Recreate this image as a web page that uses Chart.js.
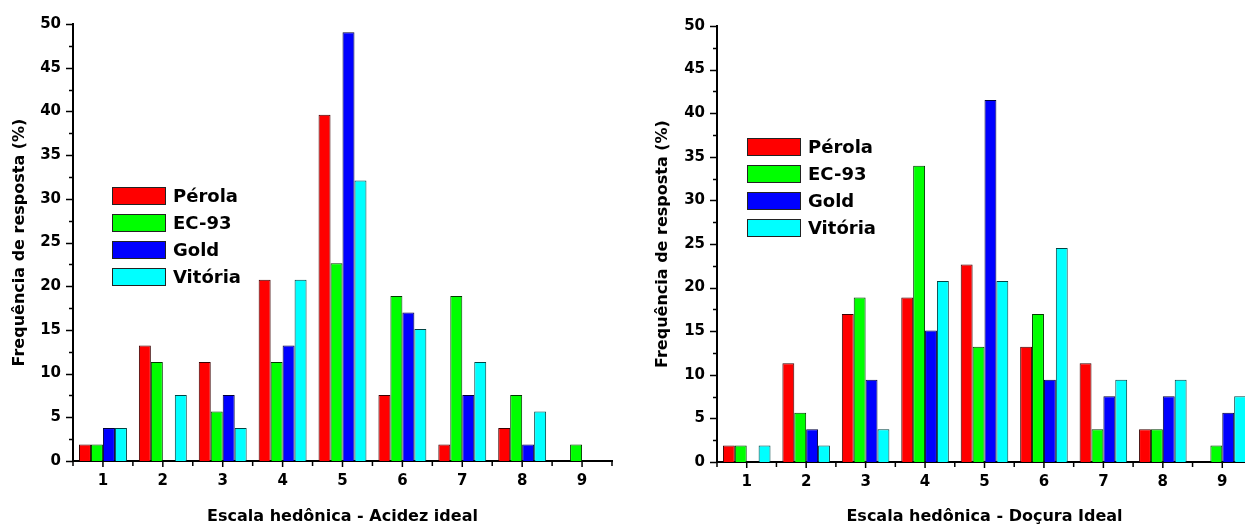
<!DOCTYPE html>
<html>
<head>
<meta charset="utf-8">
<script src="https://cdn.jsdelivr.net/npm/chart.js@4.4.0/dist/chart.umd.min.js"></script>
<style>
    body { margin: 0; width: 1245px; height: 526px; overflow: hidden; background: #fff; position: relative; font-family: "DejaVu Sans", sans-serif; }
    .painel { position: absolute; top: 0; width: 640px; height: 526px; }
    .legenda { position: absolute; font-weight: bold; font-size: 18px; color: #000; }
    .legenda div { display: flex; align-items: center; height: 27px; }
    .legenda span { display: inline-block; width: 52px; height: 16px; border: 1px solid #222; margin-right: 7px; }
</style>
</head>
<body>
<div class="painel" style="left:0"><canvas id="acidez"></canvas></div>
<div class="painel" style="left:640px"><canvas id="docura"></canvas></div>
<div class="legenda" id="leg-acidez" style="left:112px; top:182px"></div>
<div class="legenda" id="leg-docura" style="left:747px; top:133px"></div>
<script>
// escala hedônica (1 a 9) e cultivares
const escala = ['1', '2', '3', '4', '5', '6', '7', '8', '9'];
const cultivares = ['Pérola', 'EC-93', 'Gold', 'Vitória'];
const cores = ['#ff0000', '#00ff00', '#0000ff', '#00ffff'];
const bordas = ['#3a0000', '#003a00', '#00003a', '#004444'];

// Acidez ideal - frequência de resposta (%)
const acidezPerola  = [1.89, 13.21, 11.32, 20.75, 39.62, 7.55, 1.89, 3.77, 0];
const acidezEC93    = [1.89, 11.32, 5.66, 11.32, 22.64, 18.87, 18.87, 7.55, 1.89];
const acidezGold    = [3.77, 0, 7.55, 13.21, 49.06, 16.98, 7.55, 1.89, 0];
const acidezVitoria = [3.77, 7.55, 3.77, 20.75, 32.08, 15.09, 11.32, 5.66, 0];

// Doçura ideal - frequência de resposta (%)
const docuraPerola  = [1.89, 11.32, 16.98, 18.87, 22.64, 13.21, 11.32, 3.77, 0];
const docuraEC93    = [1.89, 5.66, 18.87, 33.96, 13.21, 16.98, 3.77, 3.77, 1.89];
const docuraGold    = [0, 3.77, 9.43, 15.09, 41.51, 9.43, 7.55, 7.55, 5.66];
const docuraVitoria = [1.89, 1.89, 3.77, 20.75, 20.75, 24.53, 9.43, 9.43, 7.55];

// tracinhos no estilo Origin (maiores e menores), fora da área do gráfico
const tracosEixos = {
    id: 'tracosEixos',
    afterDraw(chart) {
        const { ctx, chartArea: a, scales: { x, y } } = chart;
        ctx.save();
        ctx.strokeStyle = '#000';
        ctx.lineWidth = 1.5;
        ctx.beginPath();
        for (let v = 0; v <= 50; v += 2.5) {
            const py = Math.round(y.getPixelForValue(v)) + 0.5;
            const len = v % 5 === 0 ? 7 : 4;
            ctx.moveTo(a.left - len, py);
            ctx.lineTo(a.left, py);
        }
        const passo = x.getPixelForValue(1) - x.getPixelForValue(0);
        escala.forEach((_, i) => {
            const px = x.getPixelForValue(i);
            ctx.moveTo(px, a.bottom);
            ctx.lineTo(px, a.bottom + 6);
            ctx.moveTo(px - passo / 2, a.bottom);
            ctx.lineTo(px - passo / 2, a.bottom + 5);
        });
        ctx.moveTo(a.right, a.bottom);
        ctx.lineTo(a.right, a.bottom + 5);
        ctx.stroke();
        ctx.restore();
    }
};

function montaLegenda(id) {
    const div = document.getElementById(id);
    div.innerHTML = cultivares.map((nome, i) =>
        `<div><span style="background:${cores[i]}"></span>${nome}</div>`
    ).join('');
}

function montaGrafico(id, series, tituloX, topo, base, larguraY, tituloPad) {
    const ctx = document.getElementById(id).getContext('2d');
    return new Chart(ctx, {
        type: 'bar',
        data: {
            labels: escala,
            datasets: series.map((valores, i) => ({
                label: cultivares[i],
                data: valores,
                backgroundColor: cores[i],
                borderColor: bordas[i],
                borderWidth: 1,
                borderSkipped: 'start',
                categoryPercentage: 0.8,
                barPercentage: 1.0
            }))
        },
        plugins: [tracosEixos],
        options: {
            responsive: true,
            maintainAspectRatio: false,
            animation: false,
            layout: { padding: { top: topo, right: 28, bottom: 0, left: 0 } },
            plugins: { legend: { display: false }, tooltip: { enabled: false } },
            scales: {
                x: {
                    offset: true,
                    grid: { display: false, drawTicks: false },
                    border: { display: true, color: '#000', width: 2 },
                    ticks: { color: '#000', padding: 11, font: { family: 'DejaVu Sans', size: 15, weight: 'bold' } },
                    title: {
                        display: true, text: tituloX, color: '#000',
                        padding: { top: 0, bottom: 0 },
                        font: { family: 'DejaVu Sans', size: 16, weight: 'bold' }
                    },
                    afterFit: s => { s.height = base; }
                },
                y: {
                    min: 0, max: 50,
                    grid: { display: false, drawTicks: false },
                    border: { display: true, color: '#000', width: 2 },
                    ticks: { stepSize: 5, color: '#000', padding: 12, font: { family: 'DejaVu Sans', size: 15, weight: 'bold' } },
                    title: {
                        display: true, text: 'Frequência de resposta (%)', color: '#000',
                        padding: { top: tituloPad, bottom: 0 },
                        font: { family: 'DejaVu Sans', size: 16, weight: 'bold' }
                    },
                    afterFit: s => { s.width = larguraY; }
                }
            }
        }
    });
}

montaLegenda('leg-acidez');
montaLegenda('leg-docura');
montaGrafico('acidez', [acidezPerola, acidezEC93, acidezGold, acidezVitoria],
    'Escala hedônica - Acidez ideal', 24, 65, 73, 10);
montaGrafico('docura', [docuraPerola, docuraEC93, docuraGold, docuraVitoria],
    'Escala hedônica - Doçura Ideal', 26, 64, 77, 13);
</script>
</body>
</html>
